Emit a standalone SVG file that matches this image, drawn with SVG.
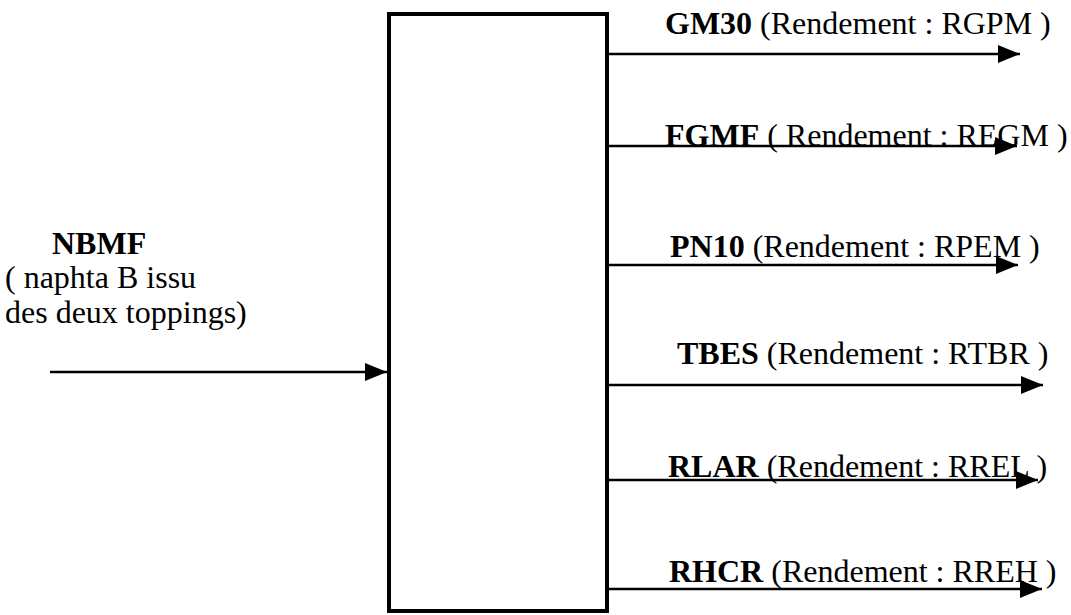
<svg xmlns="http://www.w3.org/2000/svg" width="1071" height="615" viewBox="0 0 1071 615">
<style>
.t{font-family:'Liberation Serif','Times New Roman',serif;font-size:32px;fill:#000}
.b{font-weight:bold}
.c{stroke:#000;stroke-width:2.5;fill:none}
</style>
<defs>
<marker id="ah" markerUnits="userSpaceOnUse" markerWidth="23" markerHeight="19" refX="22" refY="9" orient="auto">
<path d="M0,0 L22,9 L0,18 z" fill="#000"/>
</marker>
</defs>
<rect width="1071" height="615" fill="#fff"/>
<g id="process">
<rect x="389" y="14" width="218" height="597" fill="#fff" stroke="#000" stroke-width="4"/>
</g>
<g id="connectors">
<line class="c" x1="50" y1="372" x2="387" y2="372" marker-end="url(#ah)"/>
<line class="c" x1="607" y1="54" x2="1020" y2="54" marker-end="url(#ah)"/>
<line class="c" x1="607" y1="146" x2="1017" y2="146" marker-end="url(#ah)"/>
<line class="c" x1="607" y1="265" x2="1018" y2="265" marker-end="url(#ah)"/>
<line class="c" x1="607" y1="385" x2="1043" y2="385" marker-end="url(#ah)"/>
<line class="c" x1="607" y1="480" x2="1038" y2="480" marker-end="url(#ah)"/>
<line class="c" x1="607" y1="589" x2="1042" y2="589" marker-end="url(#ah)"/>
</g>
<g id="input-NBMF" font-family="Liberation Serif">
<text class="t b" x="52" y="254">NBMF</text>
<text class="t" x="5" y="288">( naphta B issu</text>
<text class="t" x="5" y="323">des deux toppings)</text>
</g>
<g id="out-GM30" font-family="Liberation Serif"><text class="t" x="665" y="34"><tspan class="b">GM30</tspan> (Rendement : RGPM )</text></g>
<g id="out-FGMF" font-family="Liberation Serif"><text class="t" x="665" y="146"><tspan class="b">FGMF</tspan> ( Rendement : REGM )</text></g>
<g id="out-PN10" font-family="Liberation Serif"><text class="t" x="670" y="257"><tspan class="b">PN10</tspan> (Rendement : RPEM )</text></g>
<g id="out-TBES" font-family="Liberation Serif"><text class="t" x="677" y="364"><tspan class="b">TBES</tspan> (Rendement : RTBR )</text></g>
<g id="out-RLAR" font-family="Liberation Serif"><text class="t" x="668" y="477"><tspan class="b">RLAR</tspan> (Rendement : RREL )</text></g>
<g id="out-RHCR" font-family="Liberation Serif"><text class="t" x="669" y="582"><tspan class="b">RHCR</tspan> (Rendement : RREH )</text></g>
</svg>
